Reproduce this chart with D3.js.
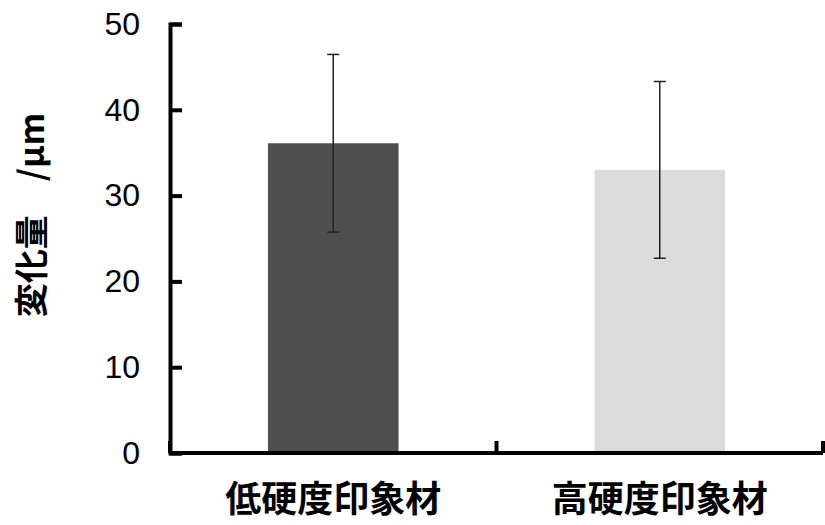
<!DOCTYPE html>
<html>
<head>
<meta charset="utf-8">
<script src="https://cdn.jsdelivr.net/npm/d3@7"></script>
<style>
    body { margin: 0; background: #fff; }
    .axis path, .axis line { stroke: #000; stroke-width: 4; }
    .axis text { font-family: 'Liberation Sans', Arial, sans-serif; font-size: 32px; fill: #000; }
    .xlabel, .ylabel { font-family: 'Noto Sans CJK JP', sans-serif; font-weight: bold; fill: #000; }
</style>
</head>
<body>
<div id="chart"></div>
<script>
// Categories and values
var categories = ['低硬度印象材', '高硬度印象材'];
var means = [36.1, 33.0];
var errors = [10.35, 10.3];
var yTicks = [0, 10, 20, 30, 40, 50];
var ylabel = '変化量　/μm';

// Bar colours
var colors = ['#4f4f4f', '#dcdcdc'];

var width = 825, height = 525;
var margin = {top: 24, right: 2, bottom: 72, left: 170};
var w = width - margin.left - margin.right;
var h = height - margin.top - margin.bottom;

var svg = d3.select('#chart').append('svg')
    .attr('width', width)
    .attr('height', height)
    .append('g')
    .attr('transform', 'translate(' + margin.left + ',' + margin.top + ')');

var x = d3.scaleBand().domain(categories).range([0, w]).padding(0);
var y = d3.scaleLinear().domain([0, 50]).range([h, 0]);

var barWidth = x.bandwidth() * 0.4;

// Bars
svg.selectAll('rect.bar')
    .data(categories)
    .enter().append('rect')
    .attr('class', 'bar')
    .attr('x', function(d) { return x(d) + (x.bandwidth() - barWidth) / 2; })
    .attr('y', function(d, i) { return y(means[i]); })
    .attr('width', barWidth)
    .attr('height', function(d, i) { return y(0) - y(means[i]); })
    .style('fill', function(d, i) { return colors[i]; });

// Error bars
var err = svg.selectAll('g.err')
    .data(categories)
    .enter().append('g')
    .attr('class', 'err')
    .attr('transform', function(d) { return 'translate(' + (x(d) + x.bandwidth() / 2) + ',0)'; });

err.append('line')
    .attr('x1', 0).attr('x2', 0)
    .attr('y1', function(d, i) { return y(means[i] + errors[i]); })
    .attr('y2', function(d, i) { return y(means[i] - errors[i]); })
    .style('stroke', '#222').style('stroke-width', 1.5);

[1, -1].forEach(function(s) {
    err.append('line')
        .attr('x1', -6).attr('x2', 6)
        .attr('y1', function(d, i) { return y(means[i] + s * errors[i]); })
        .attr('y2', function(d, i) { return y(means[i] + s * errors[i]); })
        .style('stroke', '#222').style('stroke-width', 1.5);
});

// Y axis, ticks pointing inward
svg.append('g')
    .attr('class', 'axis')
    .call(d3.axisLeft(y).tickValues(yTicks).tickSize(-12).tickPadding(30));

// X axis line with boundary ticks
var xg = svg.append('g').attr('class', 'axis');
xg.append('line')
    .attr('x1', 0).attr('x2', w)
    .attr('y1', h).attr('y2', h);
var bounds = categories.map(function(d) { return x(d); }).concat([w]);
xg.selectAll('line.tick')
    .data(bounds)
    .enter().append('line')
    .attr('class', 'tick')
    .attr('x1', function(d) { return d; }).attr('x2', function(d) { return d; })
    .attr('y1', h).attr('y2', h - 12);

// Category labels
svg.selectAll('text.xlabel')
    .data(categories)
    .enter().append('text')
    .attr('class', 'xlabel')
    .attr('x', function(d) { return x(d) + x.bandwidth() / 2; })
    .attr('y', h + 59)
    .style('font-size', '36px')
    .style('text-anchor', 'middle')
    .text(function(d) { return d; });

// Y label
svg.append('text')
    .attr('class', 'ylabel')
    .attr('transform', 'translate(' + (32 - margin.left) + ',' + (215 - margin.top) + ') rotate(-90)')
    .attr('dy', '0.35em')
    .style('font-size', '34px')
    .style('text-anchor', 'middle')
    .text(ylabel);
</script>
</body>
</html>
